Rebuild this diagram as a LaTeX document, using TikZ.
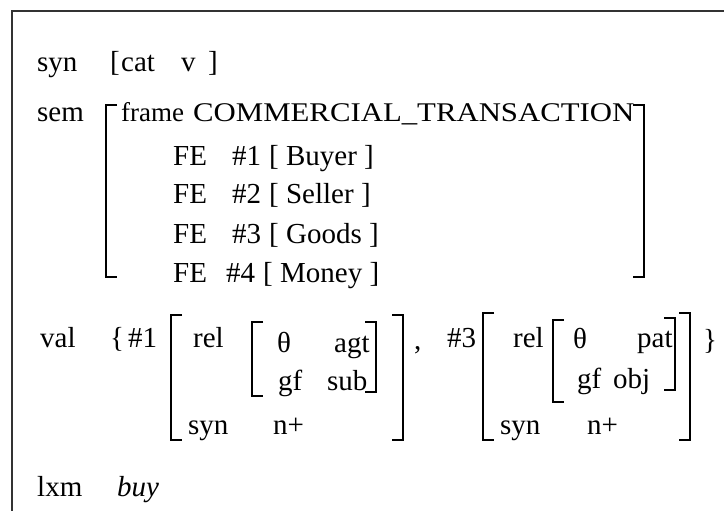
\documentclass[tikz,border=0pt]{standalone}
\usepackage{fontspec}
\usepackage{graphicx}
\setmainfont{Liberation Serif}
\newcommand\LBrk[3]{\draw[brk] (#1+11,#2) -- (#1,#2) -- (#1,#3) -- (#1+11,#3);}
\newcommand\RBrk[3]{\draw[brk] (#1-11,#2) -- (#1,#2) -- (#1,#3) -- (#1-11,#3);}
\begin{document}
\begin{tikzpicture}[x=1pt,y=-1pt,
  t/.style={anchor=base west, inner sep=0pt,
            font=\fontsize{29}{34}\selectfont},
  ts/.style={t, font=\fontsize{27}{32}\selectfont},
  brk/.style={line width=1.5pt, black},
  frm/.style={line width=2pt, black!80}]
\useasboundingbox (0,0) rectangle (724,511);
\fill[white] (0,0) rectangle (724,511);
\draw[frm] (12,511) -- (12,11) -- (724,11);

% syn row
\node[t] (syn) at (37,72) {syn};
\node[t] (lb1) at (110,72) {[};
\node[t] (cat) at (121,72) {cat};
\node[t] (v) at (181,72) {v};
\node[t] (rb1) at (208,72) {]};

% sem
\node[t] (sem) at (37,122) {sem};
\LBrk{106}{105}{277}
\RBrk{644}{105}{277}
\node[ts] (frame) at (121,122) {frame};
\node[ts] (ct) at (193,122) {\scalebox{1.14}[1]{COMMERCIAL\_TRANSACTION}};
\node[t] (fe1) at (173,165) {FE};
\node[t] (fe1n) at (232,165) {\#1};
\node[t] (fe1v) at (269,165) {[ Buyer ]};
\node[t] (fe2) at (173,204) {FE};
\node[t] (fe2n) at (232,204) {\#2};
\node[t] (fe2v) at (269,204) {[ Seller ]};
\node[t] (fe3) at (173,243) {FE};
\node[t] (fe3n) at (232,243) {\#3};
\node[t] (fe3v) at (269,243) {[ Goods ]};
\node[t] (fe4) at (173,282) {FE};
\node[t] (fe4n) at (226,282) {\#4};
\node[t] (fe4v) at (263,282) {[ Money ]};

% val
\node[t] (val) at (40,347) {val};
\node[t] (lbrace) at (110,347) {\{};
\node[t] (n1) at (128,347) {\#1};
\LBrk{171}{315}{440}
\RBrk{403}{315}{440}
\node[t] (rel1) at (193,347) {rel};
\LBrk{252}{322}{396}
\RBrk{376}{322}{392}
\node[t] (th1) at (277,352) {θ};
\node[t] (agt) at (334,352) {agt};
\node[t] (gf1) at (278,390) {gf};
\node[t] (sub) at (327,390) {sub};
\node[t] (syn1) at (188,434) {syn};
\node[t] (np1) at (273,434) {n+};

\node[t] (comma) at (414,349) {,};
\node[t] (n3) at (447,347) {\#3};
\LBrk{483}{313}{440}
\RBrk{690}{313}{440}
\node[t] (rel3) at (513,347) {rel};
\LBrk{553}{320}{402}
\RBrk{675}{318}{390}
\node[t] (th3) at (573,348) {θ};
\node[t] (pat) at (637,347) {pat};
\node[t] (gf3) at (577,388) {gf};
\node[t] (obj) at (613,388) {obj};
\node[t] (syn3) at (500,434) {syn};
\node[t] (np3) at (587,434) {n+};
\node[t] (rbrace) at (703,349) {\}};

% lxm
\node[t] (lxm) at (37,496) {lxm};
\node[t] (buy) at (117,496) {\itshape buy};
\end{tikzpicture}
\end{document}
